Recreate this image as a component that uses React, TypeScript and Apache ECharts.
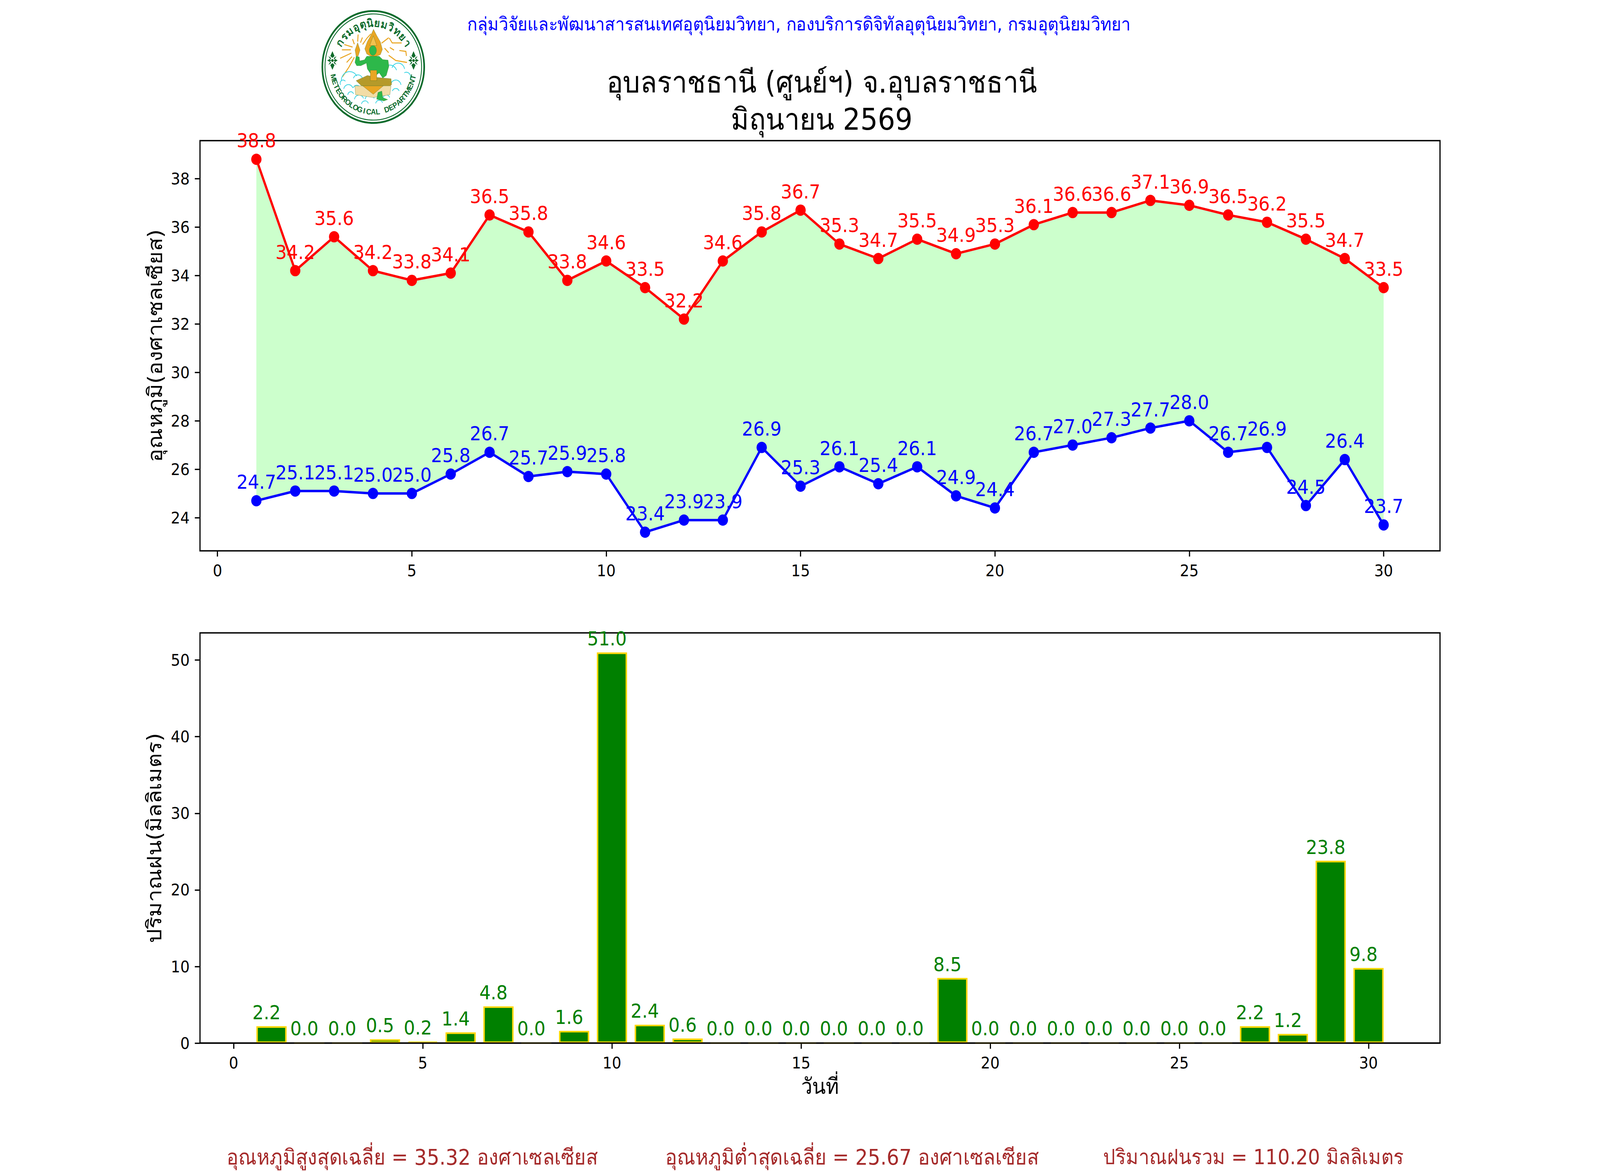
import React, { useEffect, useRef } from "react";
import * as echarts from "echarts";

const days = [1,2,3,4,5,6,7,8,9,10,11,12,13,14,15,16,17,18,19,20,21,22,23,24,25,26,27,28,29,30];
const tmax = [38.8,34.2,35.6,34.2,33.8,34.1,36.5,35.8,33.8,34.6,33.5,32.2,34.6,35.8,36.7,35.3,34.7,35.5,34.9,35.3,36.1,36.6,36.6,37.1,36.9,36.5,36.2,35.5,34.7,33.5];
const tmin = [24.7,25.1,25.1,25.0,25.0,25.8,26.7,25.7,25.9,25.8,23.4,23.9,23.9,26.9,25.3,26.1,25.4,26.1,24.9,24.4,26.7,27.0,27.3,27.7,28.0,26.7,26.9,24.5,26.4,23.7];
const rain = [2.2,0,0,0.5,0.2,1.4,4.8,0,1.6,51.0,2.4,0.6,0,0,0,0,0,0,8.5,0,0,0,0,0,0,0,2.2,1.2,23.8,9.8];
const xTicks = [0,5,10,15,20,25,30];
const tempTicks = [24,26,28,30,32,34,36,38];
const rainTicks = [0,10,20,30,40,50];
const FONT = "'DejaVu Sans', 'Noto Sans', sans-serif";

const DARK = "#0C6B2C";
const GOLD = "#E9A623";
const LEAF = "#2DB84A";
const SKY = "#35D3E3";
const thaiArc = ["ก","ร","ม","อุ","ตุ","นิ","ย","ม","วิ","ท","ย","า"];
const engArc = "METEOROLOGICAL DEPARTMENT".split("");
const bolts: number[][][] = [
  [[205,282],[275,302]],[[185,323],[260,323]],[[170,388],[265,348]],[[225,420],[270,375]],[[190,530],[245,455],[290,380]],
  [[275,240],[290,280]],[[322,205],[318,260]],[[358,228],[342,268]],[[430,200],[395,235],[360,282]],
  [[520,272],[580,230]],[[585,232],[610,270],[690,270]],[[545,310],[580,345]],[[590,305],[625,325]],
  [[670,328],[725,335],[730,370]],[[580,365],[640,405],[735,420]],
];
const clouds: number[][] = [
  [250,560,70,180,330],[320,555,40,200,340],[195,580,25,150,320],[590,500,60,190,340],[660,480,55,200,350],[730,530,35,240,390],
  [240,630,40,190,340],[310,625,30,200,340],[260,670,25,180,340],[640,600,45,200,350],[640,650,30,200,340],
  [330,710,40,190,340],[420,710,40,190,340],[500,740,30,190,340],[380,745,30,190,340],[560,700,30,190,340],
];
function flower(cx: number, cy: number) {
  const d = [[[0,-72],[18,-34],[0,-20],[-18,-34]],[[0,72],[18,34],[0,20],[-18,34]],[[-44,0],[-22,-12],[-12,0],[-22,12]],[[44,0],[22,-12],[12,0],[22,12]],
    [[-34,-34],[-12,-20],[-12,-12],[-20,-12]],[[34,-34],[12,-20],[12,-12],[20,-12]],[[-34,34],[-12,20],[-12,12],[-20,12]],[[34,34],[12,20],[12,12],[20,12]]];
  return [
    ...d.map((p) => ({ type: "polygon", shape: { points: p.map(([x, y]) => [cx + x, cy + y]) }, style: { fill: DARK } })),
    { type: "circle", shape: { cx, cy, r: 11 }, style: { fill: DARK } },
  ];
}
function poly(points: number[][], fill: string) {
  return { type: "polygon", shape: { points }, style: { fill, stroke: "#3a6b20", lineWidth: 1.5 } };
}
function logo() {
  const cx = 450, cy = 455;
  const children: any[] = [
    { type: "circle", shape: { cx, cy, r: 430 }, style: { fill: "#fff", stroke: DARK, lineWidth: 14 } },
    { type: "circle", shape: { cx, cy, r: 408 }, style: { fill: "none", stroke: DARK, lineWidth: 7 } },
    ...bolts.map((points) => ({ type: "polyline", shape: { points }, style: { stroke: GOLD, lineWidth: 8, fill: "none" } })),
    ...clouds.map(([x, y, r, s, e]) => ({ type: "arc", shape: { cx: x, cy: y, r, startAngle: (s * Math.PI) / 180, endAngle: (e * Math.PI) / 180 }, style: { stroke: SKY, lineWidth: 6, fill: "none" } })),
    poly([[452,165],[480,215],[510,262],[527,320],[510,360],[475,372],[430,372],[395,355],[378,315],[400,260],[430,210]], GOLD),
    poly([[305,560],[400,520],[480,535],[600,545],[605,590],[540,640],[440,610],[350,600]], "#B59A2A"),
    poly([[295,600],[600,600],[590,668],[450,690],[300,668]], "#F2DCA6"),
    poly([[360,600],[535,600],[450,665]], GOLD),
    poly([[395,372],[500,372],[530,398],[575,402],[582,450],[560,520],[530,540],[500,500],[470,520],[430,510],[400,470],[392,425],[345,445],[310,445],[295,420],[305,372],[332,378],[335,408],[375,400]], LEAF),
    poly([[425,480],[480,480],[480,560],[425,560]], GOLD),
    poly([[490,650],[522,640],[530,690],[572,705],[540,716],[478,702]], LEAF),
    { type: "ellipse", shape: { cx: 447, cy: 328, rx: 30, ry: 38 }, style: { fill: LEAF, stroke: "#3a6b20", lineWidth: 1.5 } },
    poly([[318,268],[338,325],[322,372],[305,372],[296,325]], GOLD),
    poly([[420,290],[450,215],[480,290]], "#F2C14E"),
    ...flower(105, 405),
    ...flower(790, 405),
  ];
  thaiArc.forEach((ch, i) => {
    const a = ((-57 + (114 * i) / (thaiArc.length - 1)) * Math.PI) / 180;
    children.push({ type: "text", x: cx + 340 * Math.sin(a), y: cy - 340 * Math.cos(a), rotation: -a, originX: 0, originY: 0,
      style: { text: ch, fill: DARK, fontSize: 84, fontWeight: "bold", fontFamily: FONT, align: "center", verticalAlign: "middle" } });
  });
  engArc.forEach((ch, i) => {
    const deg = -77 + (154 * i) / (engArc.length - 1);
    const a = (deg * Math.PI) / 180;
    children.push({ type: "text", x: cx + 345 * Math.sin(a), y: cy + 345 * Math.cos(a), rotation: a, originX: 0, originY: 0,
      style: { text: ch, fill: DARK, fontSize: 60, fontWeight: "bold", fontFamily: "'Liberation Sans', sans-serif", align: "center", verticalAlign: "middle" } });
  });
  return { type: "group", x: 900, y: 20, scaleX: 1 / 3, scaleY: 1 / 3, children };
}

function xAxis(grid: number, min: number, max: number, extra: any = {}) {
  return {
    type: "value", gridIndex: grid, min, max, splitLine: { show: false },
    axisLine: { show: false, onZero: false },
    axisTick: { show: true, length: 14.6, lineStyle: { width: 3.33, color: "#000" }, customValues: xTicks },
    axisLabel: { fontSize: 41.67, color: "#000", margin: 29, fontFamily: FONT, customValues: xTicks },
    ...extra,
  };
}
function yAxis(grid: number, min: number, max: number, ticks: number[], name: string, gap: number) {
  return {
    type: "value", gridIndex: grid, min, max, splitLine: { show: false },
    name, nameLocation: "middle", nameGap: gap, nameRotate: 90,
    nameTextStyle: { fontSize: 57, color: "#000", fontFamily: FONT },
    axisLine: { show: false, onZero: false },
    axisTick: { show: true, length: 14.6, lineStyle: { width: 3.33, color: "#000" }, customValues: ticks },
    axisLabel: { fontSize: 41.67, color: "#000", margin: 29, fontFamily: FONT, customValues: ticks },
  };
}
function lineSeries(values: number[], color: string) {
  return {
    type: "line", xAxisIndex: 0, yAxisIndex: 0, data: days.map((d, i) => [d, values[i]]),
    symbol: "circle", symbolSize: 29, showSymbol: true, lineStyle: { color, width: 6.25 }, itemStyle: { color }, z: 3,
    label: { show: true, position: "top", distance: 8, color, fontSize: 50, fontFamily: FONT, formatter: (p: any) => p.value[1].toFixed(1) },
  };
}

export default function App() {
  const ref = useRef<HTMLDivElement>(null);
  useEffect(() => {
    const chart = echarts.init(ref.current!, null, { renderer: "svg" });
    chart.setOption({
      animation: false,
      backgroundColor: "#fff",
      title: {
        text: "อุบลราชธานี (ศูนย์ฯ) จ.อุบลราชธานี\nมิถุนายน 2569",
        left: 2306, top: 158, textAlign: "center",
        textStyle: { fontSize: 77, lineHeight: 95, fontWeight: "normal", color: "#000", fontFamily: FONT },
      },
      grid: [
        { left: 562.5, top: 360, width: 3487.5, height: 1050, show: true, borderColor: "#000", borderWidth: 3.33, backgroundColor: "transparent" },
        { left: 562.5, top: 1620, width: 3487.5, height: 1050, show: true, borderColor: "#000", borderWidth: 3.33, backgroundColor: "transparent" },
      ],
      xAxis: [
        xAxis(0, -0.45, 31.45),
        xAxis(1, -0.89, 31.89, { name: "วันที่", nameLocation: "middle", nameGap: 83, nameTextStyle: { fontSize: 56, color: "#000", fontFamily: FONT } }),
      ],
      yAxis: [
        yAxis(0, 22.63, 39.57, tempTicks, "อุณหภูมิ(องศาเซลเซียส)", 98),
        yAxis(1, 0, 53.55, rainTicks, "ปริมาณฝน(มิลลิเมตร)", 100),
      ],
      series: [
        {
          type: "custom", xAxisIndex: 0, yAxisIndex: 0, z: 1, silent: true,
          data: days.map((d, i) => [d, tmax[i], tmin[i]]),
          encode: { x: 0, y: [1, 2] },
          renderItem: (params: any, api: any) => {
            if (params.dataIndex !== 0) return null;
            const upper = days.map((d, i) => api.coord([d, tmax[i]]));
            const lower = days.map((d, i) => api.coord([d, tmin[i]])).reverse();
            return { type: "polygon", shape: { points: upper.concat(lower) }, style: { fill: "#CCFFCC" } };
          },
        },
        lineSeries(tmax, "#FF0000"),
        lineSeries(tmin, "#0000FF"),
        {
          type: "bar", xAxisIndex: 1, yAxisIndex: 1, data: days.map((d, i) => [d, rain[i]]),
          barWidth: 85, itemStyle: { color: "#008000", borderColor: "#FFD700", borderWidth: 4.17 },
          label: { show: true, position: "top", distance: 10, offset: [-14, 0], color: "#008000", fontSize: 50, fontFamily: FONT, formatter: (p: any) => p.value[1].toFixed(1) },
        },
      ],
      graphic: [
        logo(),
        { type: "line", z: 50, shape: { x1: 561, y1: 2670, x2: 4052, y2: 2670 }, style: { stroke: "#000", lineWidth: 3.33 } },
        { type: "text", x: 1314, y: 38, style: { text: "กลุ่มวิจัยและพัฒนาสารสนเทศอุตุนิยมวิทยา, กองบริการดิจิทัลอุตุนิยมวิทยา, กรมอุตุนิยมวิทยา", fill: "#0000FF", fontSize: 47.2, fontFamily: FONT } },
        { type: "text", x: 637, y: 2934, style: { text: "อุณหภูมิสูงสุดเฉลี่ย = 35.32 องศาเซลเซียส", fill: "#A52A2A", fontSize: 55.4, fontFamily: FONT } },
        { type: "text", x: 1871, y: 2934, style: { text: "อุณหภูมิต่ำสุดเฉลี่ย = 25.67 องศาเซลเซียส", fill: "#A52A2A", fontSize: 55.4, fontFamily: FONT } },
        { type: "text", x: 3103, y: 2934, style: { text: "ปริมาณฝนรวม = 110.20 มิลลิเมตร", fill: "#A52A2A", fontSize: 53.6, fontFamily: FONT } },
      ],
    });
    return () => chart.dispose();
  }, []);
  // The browser's viewport may be narrower than the 4500px figure: fit the whole figure to it.
  const fit = Math.min(1, window.innerWidth / 4500);
  return <div ref={ref} style={{ position: "absolute", left: 0, top: 0, width: 4500, height: 3000, transform: `scaleX(${fit})`, transformOrigin: "0 0" }} />;
}
